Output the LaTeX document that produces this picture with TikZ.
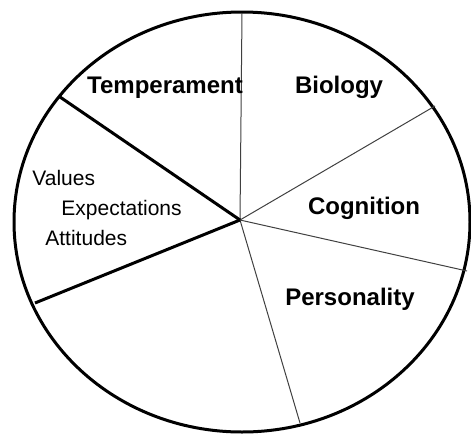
\documentclass[tikz,border=0pt]{standalone}
\usepackage{fontspec}
\setmainfont{Liberation Sans}
\begin{document}
\begin{tikzpicture}[x=0.5pt,y=-0.5pt,
  rim/.style={line width=1.5pt},
  bigcut/.style={line width=1.5pt},
  cut/.style={line width=0.5pt,black!75},
  lbl/.style={font=\bfseries\fontsize{12}{14}\selectfont,anchor=base},
  sublbl/.style={font=\fontsize{10.5}{12}\selectfont,anchor=base west,inner sep=0pt}]
  \useasboundingbox (0,0) rectangle (471,434);
  % Sirkel
  \draw[rim] (242,222) ellipse [x radius=228,y radius=210];
  % Punkter
  \coordinate (c) at (240,220);
  \coordinate (top) at (242,13);
  \coordinate (ur) at (435,106);
  \coordinate (r) at (467,271);
  \coordinate (bot) at (300,423);
  \coordinate (ll) at (35,303);
  \coordinate (ul) at (60,97);
  % Sektorer
  \draw[cut] (c) -- (top);
  \draw[cut] (c) -- (ur);
  \draw[cut] (c) -- (r);
  \draw[cut] (c) -- (bot);
  \draw[bigcut] (c) -- (ll);
  \draw[bigcut] (c) -- (ul);
  % Tekst
  \node[lbl] (temp) at (165,93) {Temperament};
  \node[lbl] (bio) at (339,93) {Biology};
  \node[lbl] (cog) at (364,214) {Cognition};
  \node[lbl] (pers) at (350,305) {Personality};
  \node[sublbl] (val) at (32,185) {Values};
  \node[sublbl] (exp) at (61,215) {Expectations};
  \node[sublbl] (att) at (45,245) {Attitudes};
\end{tikzpicture}
\end{document}
